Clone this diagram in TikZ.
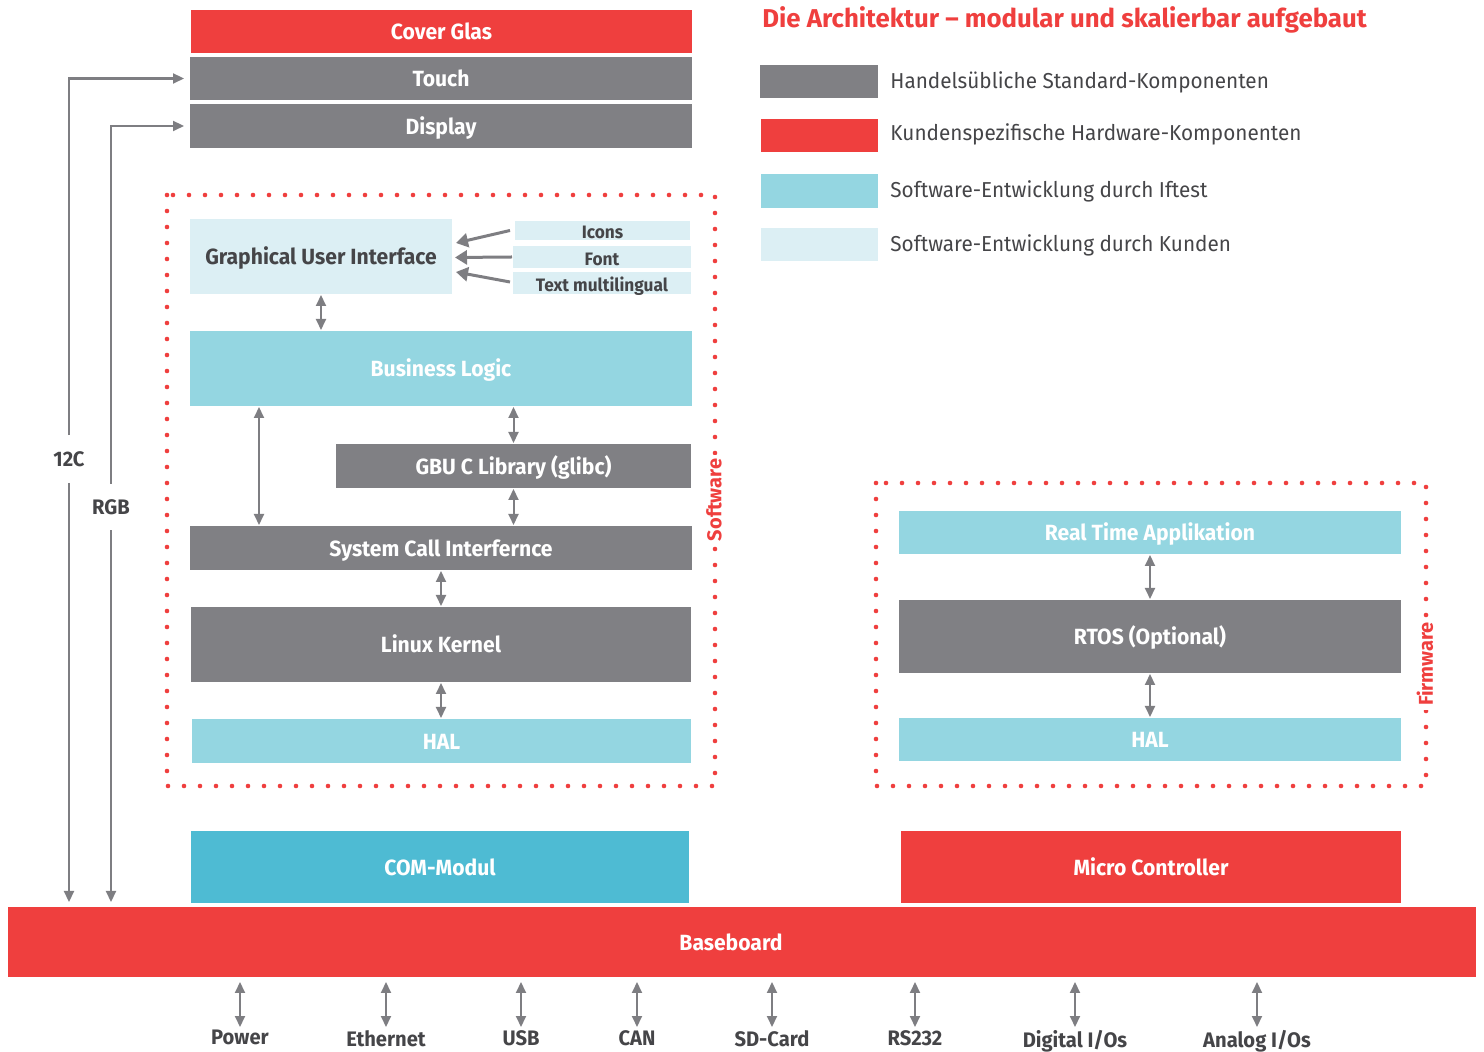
\documentclass[tikz,border=0pt]{standalone}
\usepackage{fontspec}
\setmainfont{Fira Sans}
\newfontfamily\cf{Fira Sans}[FakeStretch=0.96]
\usetikzlibrary{arrows.meta,fit}
\definecolor{cred}{HTML}{EF3F3E}
\definecolor{cgray}{HTML}{808084}
\definecolor{ccyan}{HTML}{94D6E1}
\definecolor{clight}{HTML}{DCEFF4}
\definecolor{ccom}{HTML}{4EBBD3}
\definecolor{ctext}{HTML}{454548}
\definecolor{carrow}{HTML}{7E7E82}
\begin{document}
\begin{tikzpicture}[x=0.5pt,y=-0.5pt,
  blk/.style={inner sep=0pt, outer sep=0pt},
  wl/.style={inner sep=0pt, text height=0.69em, text depth=0pt, yshift=-0.8pt, text=white, font=\cf\bfseries\fontsize{11pt}{13pt}\selectfont},
  dl/.style={wl, text=ctext},
  sl/.style={dl, font=\cf\bfseries\fontsize{9pt}{10pt}\selectfont},
  redb/.style={blk, fill=cred},
  grayb/.style={blk, fill=cgray},
  cyanb/.style={blk, fill=ccyan},
  lightb/.style={blk, fill=clight},
  comb/.style={blk, fill=ccom},
  legtxt/.style={anchor=west, inner sep=0pt, text=ctext, font=\cf\fontsize{10.8pt}{13pt}\selectfont},
  dotline/.style={cred, line width=2.3pt, line cap=round, dash pattern=on 0pt off 8pt},
  sidelbl/.style={text=cred, font=\bfseries\fontsize{10pt}{12pt}\selectfont, fill=white, inner sep=2pt, rotate=90},
  iolbl/.style={inner sep=0pt, text=ctext, font=\cf\bfseries\fontsize{10.5pt}{12pt}\selectfont},
  sidetxt/.style={inner sep=0pt, text=ctext, font=\cf\bfseries\fontsize{10.5pt}{12pt}\selectfont},
  dar/.style={carrow, line width=1pt, {Triangle[length=5.5pt,width=5pt]}-{Triangle[length=5.5pt,width=5pt]}},
  sar/.style={carrow, line width=1.1pt, -{Triangle[length=5.5pt,width=5pt]}},
  gar/.style={carrow, line width=1.5pt, -{Triangle[length=6pt,width=7pt]}}
]
\useasboundingbox (0,0) rectangle (1484,1052);

% title and legend
\node[anchor=west, inner sep=0pt, text=cred, font=\bfseries\fontsize{12.9pt}{15pt}\selectfont] (title) at (762,20) {Die Architektur – modular und skalierbar aufgebaut};
\node[blk, fill=cgray, fit={(760,65) (878,98)}] (lg1) {};
\node[blk, fill=cred, fit={(761,119) (878,152)}] (lg2) {};
\node[blk, fill=ccyan, fit={(761,174) (878,208)}] (lg3) {};
\node[blk, fill=clight, fit={(761,228) (878,261)}] (lg4) {};
\node[legtxt] (lt1) at (890,82) {Handelsübliche Standard-Komponenten};
\node[legtxt] (lt2) at (890,134) {Kundenspezifische Hardware-Komponenten};
\node[legtxt] (lt3) at (890,191) {Software-Entwicklung durch Iftest};
\node[legtxt] (lt4) at (890,245) {Software-Entwicklung durch Kunden};

% display stack
\node[redb, fit={(191,10) (692,53)}, label={[wl]center:Cover Glas}] (cover) {};
\node[grayb, fit={(190,57) (692,100)}, label={[wl]center:Touch}] (touch) {};
\node[grayb, fit={(190,104) (692,148)}, label={[wl]center:Display}] (display) {};

% software block
\draw[dotline] (167,195) rectangle (715,786);
\node[sidelbl] (swlbl) at (714,500) {Software};
\node[lightb, fit={(190,219) (452,294)}, label={[dl]center:Graphical User Interface}] (gui) {};
\node[lightb, fit={(515,221) (690,240)}, label={[sl]center:Icons}] (icons) {};
\node[lightb, fit={(513,246) (691,268)}, label={[sl]center:Font}] (fontn) {};
\node[lightb, fit={(513,272) (691,294)}, label={[sl]center:Text multilingual}] (textml) {};
\node[cyanb, fit={(190,331) (692,406)}, label={[wl]center:Business Logic}] (bl) {};
\node[grayb, fit={(336,444) (691,488)}, label={[wl]center:GBU C Library (glibc)}] (gbu) {};
\node[grayb, fit={(190,526) (692,570)}, label={[wl]center:System Call Interfernce}] (sys) {};
\node[grayb, fit={(191,607) (691,682)}, label={[wl]center:Linux Kernel}] (linux) {};
\node[cyanb, fit={(192,719) (691,763)}, label={[wl]center:HAL}] (hal) {};

\draw[gar] ([xshift=-2.5pt]icons.west) -- ([shift={(2pt,6.75pt)}]gui.east);
\draw[gar] ([xshift=-0.5pt]fontn.west) -- ([shift={(1.5pt,-0.5pt)}]gui.east);
\draw[gar] ([shift={(-1.5pt,0.5pt)}]textml.west) -- ([shift={(2pt,-7.75pt)}]gui.east);
\draw[dar, shorten <=0.5pt, shorten >=0.5pt] (gui.south) -- (gui.south |- bl.north);
\draw[dar, shorten <=0.5pt, shorten >=0.5pt] ([xshift=34.5pt]bl.south west) -- ([xshift=34.5pt]bl.south west |- sys.north);
\draw[dar, shorten <=0.5pt, shorten >=0.5pt] (bl.south -| gbu.north) -- (gbu.north);
\draw[dar, shorten <=0.5pt, shorten >=0.5pt] (gbu.south) -- (gbu.south |- sys.north);
\draw[dar, shorten <=0.5pt, shorten >=0.5pt] (sys.south) -- (sys.south |- linux.north);
\draw[dar, shorten <=0.5pt, shorten >=0.5pt] (linux.south) -- (linux.south |- hal.north);

% firmware block
\draw[dotline] (876,483) rectangle (1426,786);
\node[sidelbl] (fwlbl) at (1425,664) {Firmware};
\node[cyanb, fit={(899,511) (1401,554)}, label={[wl]center:Real Time Applikation}] (rta) {};
\node[grayb, fit={(899,600) (1401,673)}, label={[wl]center:RTOS (Optional)}] (rtos) {};
\node[cyanb, fit={(899,718) (1401,761)}, label={[wl]center:HAL}] (hal2) {};
\draw[dar, shorten <=0.5pt, shorten >=0.5pt] (rta.south) -- (rta.south |- rtos.north);
\draw[dar, shorten <=0.5pt, shorten >=0.5pt] (rtos.south) -- (rtos.south |- hal2.north);

% hardware
\node[comb, fit={(191,831) (689,903)}, label={[wl]center:COM-Modul}] (com) {};
\node[redb, fit={(901,831) (1401,903)}, label={[wl]center:Micro Controller}] (mc) {};
\node[redb, fit={(8,907) (1476,977)}, label={[wl, xshift=-5.5pt]center:Baseboard}] (base) {};

% left signal lines
\node[sidetxt, minimum height=23.5pt] (i2c) at (69,459) {12C};
\node[sidetxt, minimum height=23pt] (rgb) at (111,507) {RGB};
\draw[sar] (i2c.north) |- ([xshift=-3pt]touch.west);
\draw[sar] (rgb.north) |- ([xshift=-3pt]display.west);
\draw[sar, shorten >=2.5pt] (i2c.south) -- (i2c.south |- base.north);
\draw[sar, shorten >=2.5pt] (rgb.south) -- (rgb.south |- base.north);

% interfaces
\foreach \n/\x/\t in {pw/240/{Power}, eth/386/{Ethernet}, usb/521/{USB}, can/637/{CAN}, sd/772/{SD-Card}, rs/915/{RS232}, dig/1075/{Digital I/Os}, ana/1257/{Analog I/Os}}{
  \node[iolbl, anchor=north] (\n) at (\x,1030) {\t};
  \draw[dar, shorten <=2.5pt, shorten >=1.5pt] (base.south -| \n.north) -- (\n.north);
}
\end{tikzpicture}
\end{document}
